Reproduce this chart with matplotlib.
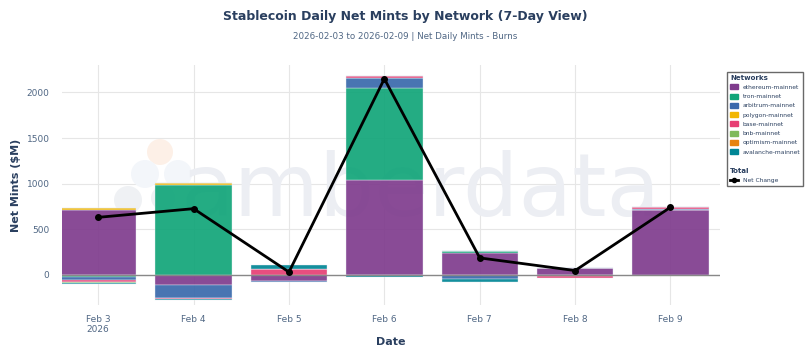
import matplotlib
matplotlib.use("Agg")
import matplotlib.pyplot as plt
import numpy as np
from matplotlib.patches import Patch, Circle
from matplotlib.lines import Line2D
from matplotlib.transforms import IdentityTransform

dates = ["Feb 3\n2026", "Feb 4", "Feb 5", "Feb 6", "Feb 7", "Feb 8", "Feb 9"]
networks = ["ethereum-mainnet", "tron-mainnet", "arbitrum-mainnet", "polygon-mainnet",
            "base-mainnet", "bnb-mainnet", "optimism-mainnet", "avalanche-mainnet"]
colors = ["#7F3C8D", "#11A579", "#3969AC", "#F2B701",
          "#E73F74", "#80BA5A", "#E68310", "#008695"]

# net mints per network, $M
ethereum = [710, -110, -65, 1035, 240, 72, 705]
tron = [-20, 985, 0, 1010, 20, -12, 0]
arbitrum = [-35, -140, -10, 115, -45, 0, 20]
polygon = [25, 20, 0, 0, 0, 0, 0]
base = [-25, -20, 60, 20, 0, -20, 15]
bnb = [-10, 0, 0, 0, 0, 0, 0]
optimism = [0, 0, 0, 0, 0, 0, 0]
avalanche = [-15, -10, 45, -30, -30, 6, 0]
series = [ethereum, tron, arbitrum, polygon, base, bnb, optimism, avalanche]
net_change = [sum(v) for v in zip(*series)]

navy = "#2a3f5f"
tick_col = "#506784"

fig = plt.figure(figsize=(8.1, 3.52), dpi=100)
ax = fig.add_axes([0.0765, 0.134, 0.8125, 0.681])

x = np.arange(len(dates))
pos_base = np.zeros(len(dates))
neg_base = np.zeros(len(dates))
for vals, c in zip(series, colors):
    v = np.array(vals, dtype=float)
    bottom = np.where(v >= 0, pos_base, neg_base)
    ax.bar(x, v, 0.8, bottom=bottom, color=c, alpha=0.92,
           edgecolor="#e8eef4", linewidth=0.3, zorder=2)
    pos_base += np.where(v >= 0, v, 0)
    neg_base += np.where(v < 0, v, 0)

ax.plot(x, net_change, color="black", lw=2, marker="o", ms=4, zorder=4)

# watermark logo + text
for (px, py, r, c) in [(160, 152, 13, "#fdf0e7"), (145, 174, 14, "#f3f6fa"),
                       (178, 174, 14, "#f3f6fa"), (128, 200, 14, "#eff1f4"),
                       (163, 198, 12, "#eff1f4")]:
    ax.add_patch(Circle((px, 352 - py), r, transform=IdentityTransform(),
                        color=c, zorder=1, clip_on=False, lw=0))
ax.text(0.545, 0.47, "amberdata", transform=ax.transAxes, fontsize=63,
        color="#eceef3", ha="center", va="center", zorder=1)

ax.set_xlim(-0.38, 6.52)
ax.set_ylim(-330, 2300)
ax.set_xticks(x)
ax.set_xticklabels(dates)
ax.set_yticks([0, 500, 1000, 1500, 2000])
ax.grid(True, color="#e6e6e6", lw=0.8, zorder=0)
ax.set_axisbelow(True)
ax.axhline(0, color="#888888", lw=1, zorder=3)
for s in ax.spines.values():
    s.set_visible(False)
ax.tick_params(axis="x", length=0, labelsize=6.5, colors=tick_col, pad=7)
ax.tick_params(axis="y", length=0, labelsize=6.5, colors=tick_col, pad=9)

ax.set_xlabel("Date", fontsize=8, fontweight="bold", color=navy, labelpad=2)
ax.set_ylabel("Net Mints ($M)", fontsize=8, fontweight="bold", color=navy, labelpad=4)

fig.text(0.5, 0.953, "Stablecoin Daily Net Mints by Network (7-Day View)",
         ha="center", va="center", fontsize=9, fontweight="bold", color=navy)
fig.text(0.5, 0.897, "2026-02-03 to 2026-02-09 | Net Daily Mints - Burns",
         ha="center", va="center", fontsize=6.3, color=tick_col)

handles = [Patch(facecolor=c, edgecolor=c) for c in colors]
labels = list(networks)
handles += [Line2D([], [], color="none"), Line2D([], [], color="none"),
            Line2D([], [], color="black", lw=2, marker="o", ms=3)]
labels += ["", "Total", "Net Change"]
leg = ax.legend(handles, labels, loc="upper left", bbox_to_anchor=(1.006, 0.985),
                fontsize=4.3, title="Networks", alignment="left",
                title_fontproperties={"weight": "bold", "size": 5},
                frameon=True, fancybox=False, edgecolor="#444444",
                handlelength=1.3, handleheight=0.9, handletextpad=0.8,
                labelspacing=0.62, borderpad=0.5)
leg.get_frame().set_linewidth(1)
for t in leg.get_texts():
    t.set_color(navy)
leg.get_title().set_color(navy)
leg.get_texts()[9].set_fontweight("bold")
leg.get_texts()[9].set_fontsize(5)
leg.get_texts()[9].set_position((-13, 0))

fig.savefig("out.png", dpi=100)
